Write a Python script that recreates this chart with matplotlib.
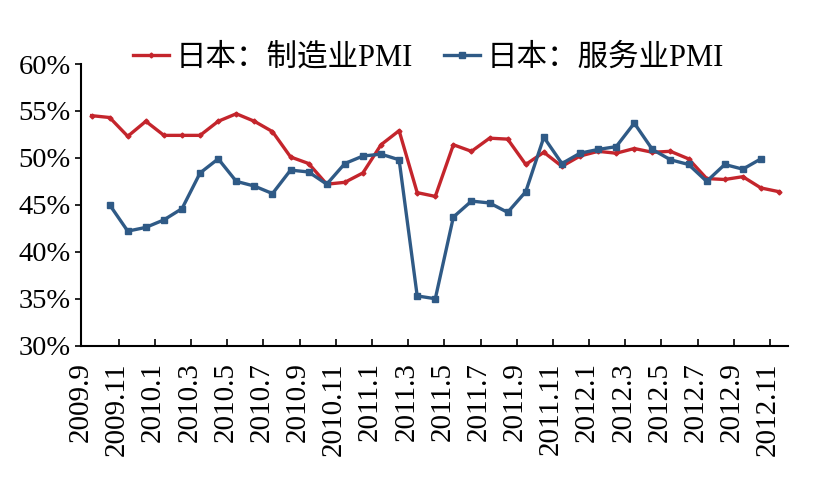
import matplotlib
matplotlib.use("Agg")
import matplotlib.pyplot as plt
import numpy as np

# --- data (2009.9 - 2012.11, monthly) ---
months = [f"{y}.{m}" for y, m in
          [(2009, m) for m in range(9, 13)] +
          [(2010, m) for m in range(1, 13)] +
          [(2011, m) for m in range(1, 13)] +
          [(2012, m) for m in range(1, 12)]]

mfg_pmi = [54.5, 54.3, 52.3, 53.9, 52.4, 52.4, 52.4, 53.9, 54.7, 53.9,
           52.8, 50.1, 49.4, 47.2, 47.4, 48.4, 51.4, 52.9, 46.3, 45.9,
           51.4, 50.7, 52.1, 52.0, 49.3, 50.6, 49.1, 50.2, 50.7, 50.5,
           51.0, 50.6, 50.7, 49.9, 47.8, 47.7, 48.0, 46.8, 46.4]

svc_pmi = [None, 45.0, 42.2, 42.6, 43.4, 44.6, 48.4, 49.9, 47.5, 47.0,
           46.2, 48.7, 48.5, 47.2, 49.4, 50.2, 50.4, 49.8, 35.3, 35.0,
           43.7, 45.4, 45.2, 44.2, 46.4, 52.2, 49.4, 50.5, 50.9, 51.2,
           53.7, 50.9, 49.8, 49.3, 47.5, 49.3, 48.8, 49.9, None]

label_every = 2

RED = "#C4252C"
BLUE = "#2F5A86"

plt.rcParams["font.family"] = ["Liberation Serif", "Noto Sans CJK SC"]

fig = plt.figure(figsize=(8.22, 4.86), dpi=100)
ax = fig.add_axes([0.0982, 0.2887, 0.8605, 0.5796])

x = np.arange(len(months))
svc = np.array([np.nan if v is None else v for v in svc_pmi], dtype=float)

ax.plot(x, mfg_pmi, color=RED, lw=2.4, marker="D", ms=2.5,
        label="日本：制造业PMI")
ax.plot(x, svc, color=BLUE, lw=2.4, marker="s", ms=5,
        label="日本：服务业PMI")

ax.set_xlim(-0.5, len(months) - 0.5)
ax.set_ylim(30, 60)
ax.set_yticks(np.arange(30, 61, 5))
ax.set_yticklabels([f"{v}%" for v in range(30, 61, 5)], fontsize=20.5)

tick_pos = np.arange(0, len(months), label_every) - 0.5
ax.set_xticks(tick_pos - 0.1)
ax.set_xticklabels(months[::label_every], rotation=90, fontsize=21)
ax.tick_params(axis="x", direction="in", length=0, pad=12)
ax.set_xticks(tick_pos[1:], minor=True)
ax.tick_params(axis="x", which="minor", direction="in", length=5, width=1.2)
ax.tick_params(axis="y", direction="out", length=4, width=1.2, pad=3)

for s in ["top", "right"]:
    ax.spines[s].set_visible(False)
for s in ["left", "bottom"]:
    ax.spines[s].set_linewidth(1.5)

fig.legend(loc="center", bbox_to_anchor=(0.521, 0.88), ncol=2, frameon=False,
           fontsize=22, handlelength=1.2, handletextpad=0.2, columnspacing=1.0)

fig.savefig("out.png", dpi=100)
